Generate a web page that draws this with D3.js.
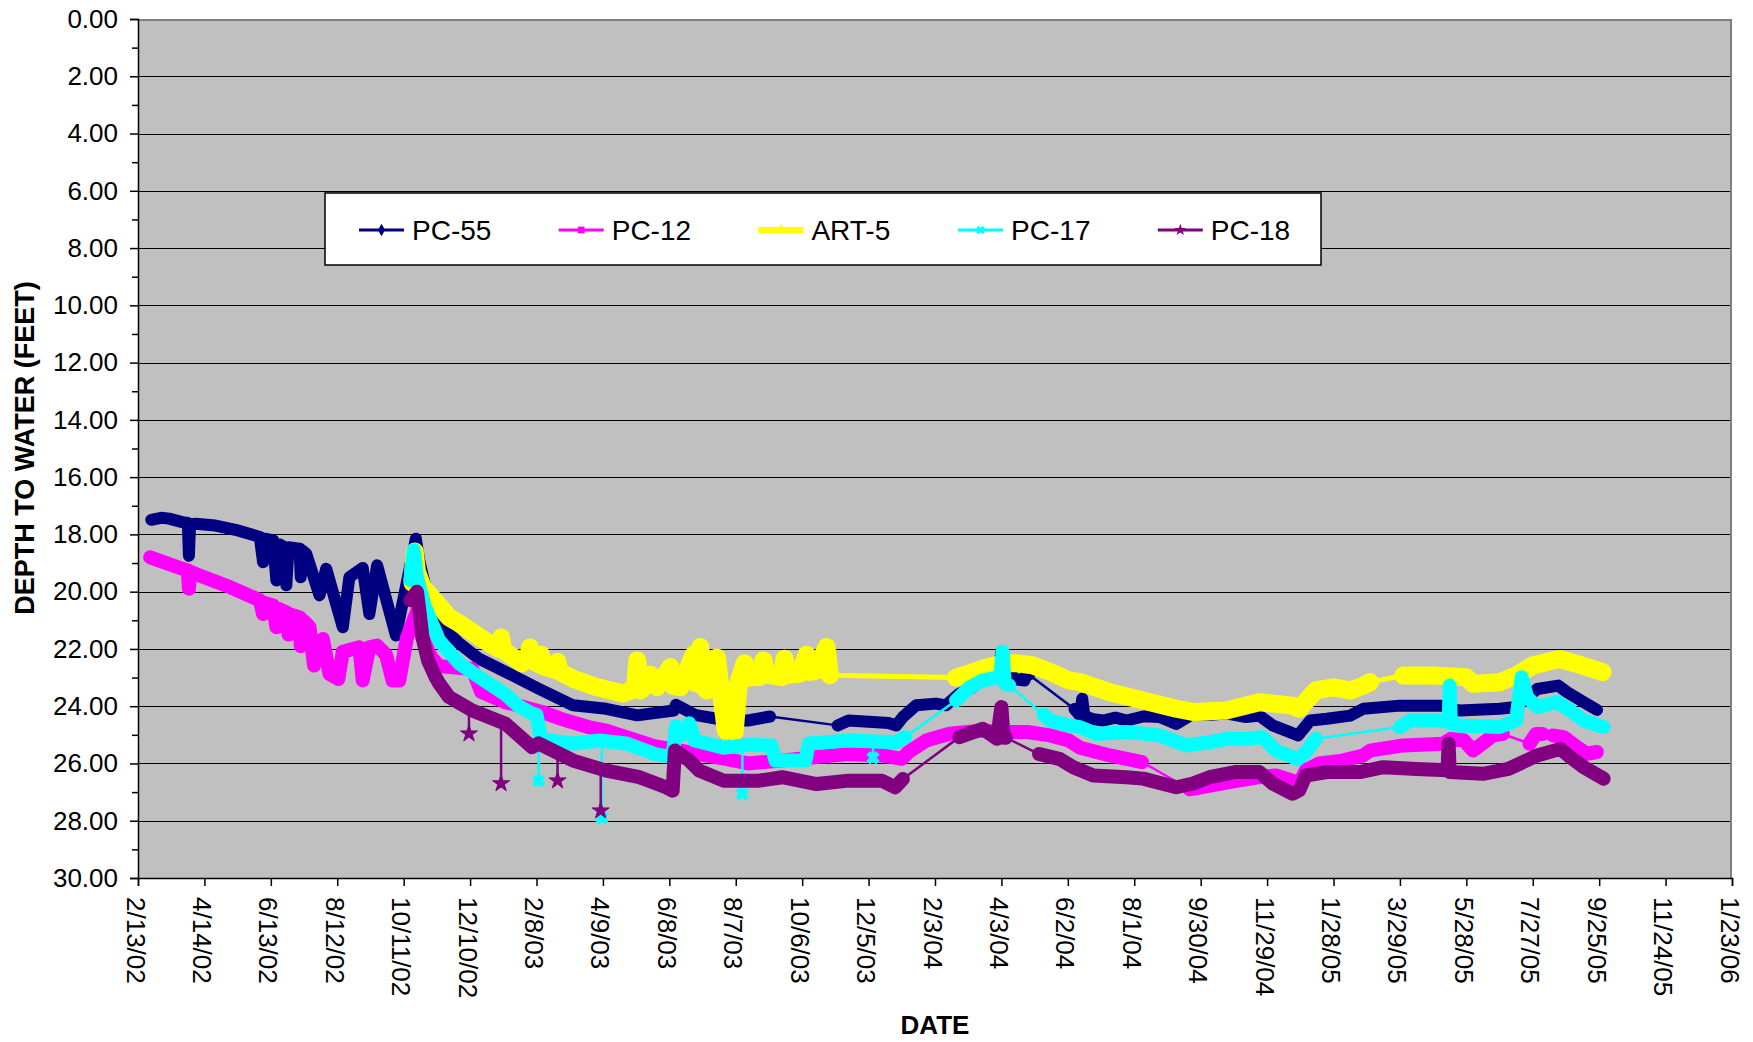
<!DOCTYPE html>
<html>
<head>
<meta charset="utf-8">
<script src="https://cdn.jsdelivr.net/npm/d3@7"></script>
<style>
    body { margin: 0; background: #fff; }
    svg { display: block; font-family: "Liberation Sans", Arial, sans-serif; }
</style>
</head>
<body>
<div id="svgContainer"></div>
<script>

// DATA

const seriesNames = ["PC-55", "PC-12", "ART-5", "PC-17", "PC-18"];

const xTickLabels = ["2/13/02", "4/14/02", "6/13/02", "8/12/02", "10/11/02", "12/10/02",
    "2/8/03", "4/9/03", "6/8/03", "8/7/03", "10/6/03", "12/5/03", "2/3/04", "4/3/04",
    "6/2/04", "8/1/04", "9/30/04", "11/29/04", "1/28/05", "3/29/05", "5/28/05", "7/27/05",
    "9/25/05", "11/24/05", "1/23/06"];

const yTickValues = [0, 2, 4, 6, 8, 10, 12, 14, 16, 18, 20, 22, 24, 26, 28, 30];

// each series is a list of logging runs: [date, depth to water (ft)]
const pc55Runs = [
    [["2/25/02", 17.49], ["3/6/02", 17.42], ["3/13/02", 17.45], ["3/25/02", 17.57], ["3/30/02", 17.6],
     ["3/31/02", 18.75], ["4/1/02", 17.65], ["4/6/02", 17.63], ["4/24/02", 17.69], ["5/12/02", 17.84],
     ["6/3/02", 18.09], ["6/6/02", 18.97], ["6/8/02", 18.15], ["6/15/02", 18.21], ["6/18/02", 19.61],
     ["6/21/02", 18.35], ["6/25/02", 18.44], ["6/27/02", 19.78], ["6/29/02", 18.45], ["7/9/02", 18.5],
     ["7/10/02", 19.5], ["7/11/02", 18.55], ["7/15/02", 18.68], ["7/27/02", 20.13], ["8/2/02", 19.2],
     ["8/17/02", 21.24], ["8/23/02", 19.49], ["9/4/02", 19.17], ["9/10/02", 20.78], ["9/17/02", 19.08],
     ["10/4/02", 21.53], ["10/22/02", 18.15], ["10/25/02", 18.9], ["11/3/02", 20.4], ["11/12/02", 20.95],
     ["11/21/02", 21.45], ["11/30/02", 21.8], ["12/18/02", 22.34], ["1/11/03", 22.8], ["2/10/03", 23.39],
     ["3/13/03", 23.97], ["4/12/03", 24.09], ["5/10/03", 24.32], ["6/12/03", 24.15], ["6/14/03", 23.95],
     ["7/1/03", 24.3], ["7/30/03", 24.5], ["8/18/03", 24.5], ["9/7/03", 24.36]],
    [["11/7/03", 24.67], ["11/17/03", 24.5], ["12/23/03", 24.59], ["12/30/03", 24.67], ["1/5/04", 24.38],
     ["1/17/04", 23.97], ["2/4/04", 23.91], ["2/13/04", 23.97], ["2/25/04", 23.56], ["3/5/04", 23.4],
     ["3/17/04", 23.1], ["3/30/04", 23.0], ["4/3/04", 22.1], ["4/5/04", 22.9], ["4/11/04", 22.45],
     ["4/13/04", 23.05], ["4/24/04", 23.1], ["4/26/04", 22.6], ["4/28/04", 22.9]],
    [["6/8/04", 24.1], ["6/13/04", 24.33], ["6/15/04", 23.74], ["6/17/04", 24.35], ["6/25/04", 24.45],
     ["7/4/04", 24.5], ["7/15/04", 24.4], ["7/25/04", 24.5], ["8/10/04", 24.35], ["8/24/04", 24.38],
     ["9/8/04", 24.62], ["9/23/04", 24.27], ["10/10/04", 24.3], ["10/23/04", 24.25], ["11/10/04", 24.38],
     ["11/22/04", 24.33], ["12/4/04", 24.67], ["12/27/04", 25.02], ["1/7/05", 24.5], ["1/22/05", 24.44],
     ["2/12/05", 24.33], ["2/24/05", 24.09], ["3/29/05", 23.98], ["5/4/05", 23.98], ["5/12/05", 24.0],
     ["5/13/05", 23.35], ["5/14/05", 24.1], ["5/22/05", 24.15], ["6/27/05", 24.09], ["7/12/05", 24.03],
     ["7/31/05", 23.4], ["8/19/05", 23.28], ["8/27/05", 23.51], ["9/11/05", 23.86], ["9/23/05", 24.13]]
];

const pc12Runs = [
    [["2/24/02", 18.8], ["3/25/02", 19.2], ["3/30/02", 19.25], ["3/31/02", 19.9], ["4/1/02", 19.3],
     ["4/6/02", 19.38], ["5/7/02", 19.84], ["6/3/02", 20.3], ["6/6/02", 20.78], ["6/8/02", 20.4],
     ["6/15/02", 20.48], ["6/18/02", 21.24], ["6/20/02", 20.6], ["6/27/02", 20.72], ["6/29/02", 21.5],
     ["7/1/02", 20.8], ["7/9/02", 20.9], ["7/10/02", 21.9], ["7/12/02", 21.0], ["7/18/02", 21.24],
     ["7/22/02", 22.58], ["7/30/02", 21.65], ["8/5/02", 22.87], ["8/13/02", 23.05], ["8/17/02", 22.1],
     ["9/1/02", 21.94], ["9/4/02", 23.1], ["9/10/02", 21.94], ["9/17/02", 21.88], ["9/25/02", 22.2],
     ["10/1/02", 23.1], ["10/7/02", 23.1], ["10/14/02", 21.6], ["10/24/02", 20.6], ["10/28/02", 21.6],
     ["11/5/02", 22.3], ["11/12/02", 22.6], ["12/12/02", 22.7], ["12/20/02", 23.5], ["1/10/03", 23.85],
     ["2/13/03", 24.2], ["3/3/03", 24.45], ["3/29/03", 24.75], ["4/12/03", 24.85], ["5/10/03", 25.2],
     ["5/26/03", 25.4], ["6/11/03", 25.5], ["7/1/03", 25.65], ["7/30/03", 25.85], ["8/18/03", 26.0],
     ["9/17/03", 25.9], ["10/17/03", 25.78], ["11/17/03", 25.67], ["12/17/03", 25.72], ["1/4/04", 25.84],
     ["1/10/04", 25.6], ["1/26/04", 25.2], ["2/16/04", 24.96], ["3/17/04", 24.85], ["4/6/04", 24.9],
     ["4/26/04", 24.9], ["5/17/04", 25.02], ["6/3/04", 25.2], ["6/13/04", 25.45], ["7/10/04", 25.72],
     ["8/8/04", 25.95]],
    [["9/20/04", 26.9], ["10/26/04", 26.65], ["11/22/04", 26.48], ["12/7/04", 26.42], ["12/22/04", 26.6],
     ["12/28/04", 26.7], ["1/3/05", 26.24], ["1/15/05", 26.0], ["2/5/05", 25.9], ["2/24/05", 25.72],
     ["3/2/05", 25.55], ["4/1/05", 25.37], ["5/7/05", 25.31], ["5/14/05", 25.14], ["5/26/05", 25.2],
     ["6/3/05", 25.55], ["6/13/05", 25.26], ["6/21/05", 25.02], ["6/30/05", 24.97]],
    [["7/24/05", 25.31], ["7/30/05", 24.97], ["8/5/05", 24.97]],
    [["8/14/05", 25.02], ["8/24/05", 25.08], ["9/5/05", 25.43], ["9/14/05", 25.66], ["9/23/05", 25.6]]
];

const art5Runs = [
    [["10/19/02", 19.7], ["10/21/02", 18.6], ["10/23/02", 19.3], ["10/28/02", 19.84], ["11/9/02", 20.35],
     ["11/21/02", 20.9], ["11/30/02", 21.1], ["12/27/02", 21.8], ["1/5/03", 22.0], ["1/7/03", 21.6],
     ["1/9/03", 22.05], ["1/26/03", 22.5], ["2/1/03", 22.3], ["2/2/03", 21.95], ["2/4/03", 22.4],
     ["2/11/03", 22.55], ["2/12/03", 22.2], ["2/14/03", 22.6], ["2/26/03", 22.75], ["2/27/03", 22.45],
     ["3/1/03", 22.8], ["3/13/03", 23.04], ["4/3/03", 23.33], ["4/27/03", 23.56], ["5/8/03", 23.4],
     ["5/10/03", 22.4], ["5/13/03", 23.45], ["5/20/03", 23.2], ["5/22/03", 22.9], ["5/28/03", 23.33],
     ["6/9/03", 22.63], ["6/12/03", 23.3], ["6/18/03", 23.33], ["6/30/03", 22.2], ["7/2/03", 23.2],
     ["7/6/03", 21.93], ["7/8/03", 23.3], ["7/12/03", 23.45], ["7/21/03", 22.3], ["7/24/03", 23.3],
     ["7/29/03", 24.85], ["8/1/03", 23.45], ["8/6/03", 24.9], ["8/10/03", 23.1], ["8/15/03", 22.5],
     ["8/18/03", 23.0], ["8/28/03", 22.98], ["9/1/03", 22.4], ["9/4/03", 22.9], ["9/18/03", 22.98],
     ["9/20/03", 22.34], ["9/23/03", 22.9], ["10/4/03", 22.86], ["10/10/03", 22.2], ["10/13/03", 22.8],
     ["10/19/03", 22.75], ["10/28/03", 21.93], ["10/31/03", 22.92]],
    [["2/22/04", 23.0], ["3/5/04", 22.86], ["3/17/04", 22.69], ["3/29/04", 22.57], ["4/4/04", 22.5],
     ["4/16/04", 22.5], ["5/1/04", 22.57], ["5/17/04", 22.8], ["6/3/04", 23.1], ["6/13/04", 23.16],
     ["7/10/04", 23.51], ["8/9/04", 23.8], ["9/8/04", 24.09], ["9/23/04", 24.2], ["10/23/04", 24.15],
     ["11/22/04", 23.86], ["12/22/04", 23.98], ["12/28/04", 24.09], ["1/12/05", 23.45], ["1/28/05", 23.34],
     ["2/12/05", 23.45], ["2/24/05", 23.28], ["3/2/05", 23.16]],
    [["4/1/05", 22.93], ["4/28/05", 22.93], ["5/28/05", 22.99], ["6/3/05", 23.22], ["6/27/05", 23.16],
     ["7/12/05", 22.93], ["7/27/05", 22.58], ["8/20/05", 22.35], ["9/10/05", 22.58], ["9/28/05", 22.81]]
];

const pc17Runs = [
    [["10/17/02", 19.6], ["10/20/02", 18.55], ["10/23/02", 19.5], ["10/30/02", 20.5], ["11/12/02", 21.7],
     ["11/30/02", 22.5], ["12/18/02", 22.98], ["1/10/03", 23.56], ["1/23/03", 24.0], ["2/4/03", 24.26],
     ["2/8/03", 24.3], ["2/12/03", 25.1], ["2/19/03", 25.2], ["3/13/03", 25.3], ["4/6/03", 25.2],
     ["4/30/03", 25.3], ["5/26/03", 25.67], ["6/11/03", 25.78], ["6/14/03", 24.7], ["6/20/03", 25.0],
     ["6/26/03", 24.6], ["7/1/03", 25.2], ["7/27/03", 25.45], ["8/18/03", 25.35], ["9/8/03", 25.37],
     ["9/12/03", 25.9], ["10/9/03", 25.9], ["10/12/03", 25.3], ["11/17/03", 25.2], ["12/30/03", 25.26],
     ["1/7/04", 25.08]],
    [["2/22/04", 23.8], ["3/5/04", 23.35], ["3/17/04", 23.1], ["4/2/04", 22.98], ["4/4/04", 22.1],
     ["4/6/04", 23.2], ["4/10/04", 23.27]],
    [["5/11/04", 24.3], ["5/17/04", 24.5], ["6/3/04", 24.67], ["6/13/04", 24.73], ["6/28/04", 24.97],
     ["7/25/04", 24.9], ["8/24/04", 25.02], ["9/17/04", 25.37], ["10/8/04", 25.26], ["10/23/04", 25.14],
     ["11/10/04", 25.14], ["11/25/04", 25.08], ["12/7/04", 25.55], ["12/27/04", 25.85], ["1/3/05", 25.6],
     ["1/12/05", 25.14]],
    [["3/29/05", 24.73], ["4/7/05", 24.5], ["5/4/05", 24.5], ["5/12/05", 24.55], ["5/13/05", 23.28],
     ["5/14/05", 24.6], ["5/22/05", 24.67], ["6/27/05", 24.73], ["7/12/05", 24.5], ["7/17/05", 22.99],
     ["7/22/05", 23.69], ["7/31/05", 24.03], ["8/18/05", 23.86], ["8/30/05", 24.15], ["9/11/05", 24.5],
     ["9/29/05", 24.73]]
];

const pc18Runs = [
    [["10/17/02", 20.3], ["10/23/02", 20.0], ["10/25/02", 20.6], ["10/28/02", 21.6], ["11/2/02", 22.4],
     ["11/9/02", 23.0], ["11/12/02", 23.2], ["11/21/02", 23.68], ["12/12/02", 24.15], ["1/11/03", 24.61],
     ["2/4/03", 25.43], ["2/10/03", 25.3], ["3/13/03", 25.9], ["4/12/03", 26.25], ["5/12/03", 26.48],
     ["6/5/03", 26.83], ["6/11/03", 26.95], ["6/13/03", 25.55], ["6/26/03", 25.9], ["7/5/03", 26.25],
     ["7/27/03", 26.6], ["8/28/03", 26.6], ["9/18/03", 26.48], ["10/19/03", 26.72], ["11/17/03", 26.6],
     ["12/17/03", 26.6], ["12/29/03", 26.83], ["1/5/04", 26.54]],
    [["2/25/04", 25.08], ["3/17/04", 24.79], ["3/30/04", 25.14], ["4/3/04", 24.03], ["4/5/04", 25.1],
     ["4/7/04", 25.1]],
    [["5/7/04", 25.67], ["5/26/04", 25.85], ["6/7/04", 26.13], ["6/25/04", 26.42], ["7/25/04", 26.48],
     ["8/9/04", 26.53], ["9/8/04", 26.83], ["9/23/04", 26.7], ["10/8/04", 26.48], ["10/31/04", 26.3],
     ["11/22/04", 26.3], ["12/4/04", 26.7], ["12/22/04", 27.06], ["12/28/04", 26.94], ["1/3/05", 26.42],
     ["1/22/05", 26.3], ["2/21/05", 26.3], ["3/14/05", 26.13], ["4/13/05", 26.19], ["5/11/05", 26.24],
     ["5/12/05", 25.3], ["5/13/05", 26.3], ["6/12/05", 26.36], ["7/5/05", 26.19], ["7/31/05", 25.72],
     ["8/21/05", 25.49], ["8/30/05", 25.78], ["9/11/05", 26.13], ["9/29/05", 26.53]]
];

// single readings off the trend: [date, trend depth, reading]
const pc17Spikes = [["2/10/03", 24.3, 26.6], ["4/8/03", 25.2, 27.9], ["8/13/03", 25.45, 27.07],
    ["12/9/03", 25.2, 25.8]];
const pc18Spikes = [["12/9/02", 24.1, 24.96], ["1/7/03", 24.55, 26.7], ["2/27/03", 25.7, 26.6],
    ["4/7/03", 26.2, 27.65]];

// STYLE

const seriesStyle = {
    "PC-55": { color: "#000080", band: 12, thin: 2.5, legend: 3, symbol: "diamond" },
    "PC-12": { color: "#ff00ff", band: 14, thin: 2.5, legend: 3, symbol: "square" },
    "ART-5": { color: "#ffff00", band: 18, thin: 5, legend: 6, symbol: "triangle" },
    "PC-17": { color: "#00ffff", band: 14, thin: 2.5, legend: 3, symbol: "times" },
    "PC-18": { color: "#800080", band: 14, thin: 2.5, legend: 3, symbol: "star" }
};

class DepthChart {

    constructor(series) {
        this._margin = { left: 138, top: 19, right: 21, bottom: 164 };
        this._width = 1753;
        this._height = 1042;
        this._parse = d3.utcParse("%m/%d/%y");
        this._SVG("svgContainer")
            ._scales()
            ._plotArea()
            ._axes()
            ._series(series)
            ._legend(series);
    }

    // PRIVATE

    _SVG(container) {
        this._svg = d3.select("#" + container).append("svg")
            .attr("width", this._width)
            .attr("height", this._height)
            .attr("viewBox", "0 0 " + this._width + " " + this._height);
        return this;
    }

    _scales() {
        const m = this._margin;
        this._x = d3.scaleUtc()
            .domain([this._parse(xTickLabels[0]), this._parse(xTickLabels[xTickLabels.length - 1])])
            .range([m.left, this._width - m.right]);
        this._y = d3.scaleLinear()
            .domain([0, 30])
            .range([m.top, this._height - m.bottom]);
        return this;
    }

    _plotArea() {
        const x0 = this._x.range()[0], x1 = this._x.range()[1];
        const y0 = this._y.range()[0], y1 = this._y.range()[1];

        this._svg.append("rect")
            .attr("x", x0).attr("y", y0)
            .attr("width", x1 - x0).attr("height", y1 - y0)
            .attr("fill", "#c0c0c0");

        this._svg.append("g")
            .selectAll("line")
            .data(yTickValues.slice(1, -1))
            .enter().append("line")
            .attr("x1", x0).attr("x2", x1)
            .attr("y1", d => Math.round(this._y(d)) + 0.5)
            .attr("y2", d => Math.round(this._y(d)) + 0.5)
            .attr("stroke", "#000")
            .attr("stroke-width", 1);

        // plot area border (top and right)
        this._svg.append("path")
            .attr("d", `M${x0},${y0 + 1}H${x1 - 1}V${y1}`)
            .attr("fill", "none")
            .attr("stroke", "#808080")
            .attr("stroke-width", 2);
        return this;
    }

    _axes() {
        const svg = this._svg;
        const x0 = this._x.range()[0];
        const y1 = this._y.range()[1];
        const fmt = d3.format(".2f");

        const minor = yTickValues.slice(0, -1).map(v => v + 1);
        svg.append("g")
            .attr("transform", `translate(${x0},0)`)
            .call(d3.axisLeft(this._y).tickValues(minor).tickSize(6).tickFormat(""))
            .call(g => g.select(".domain").remove())
            .selectAll("line").attr("stroke", "#000").attr("stroke-width", 1.5);

        const yAxis = svg.append("g")
            .attr("transform", `translate(${x0},0)`)
            .call(d3.axisLeft(this._y).tickValues(yTickValues).tickSize(8).tickPadding(12).tickFormat(fmt));
        yAxis.select(".domain").attr("stroke", "#000").attr("stroke-width", 1.5);
        yAxis.selectAll("line").attr("stroke", "#000").attr("stroke-width", 1.5);
        yAxis.selectAll("text")
            .attr("font-size", 26)
            .attr("font-family", "Liberation Sans, Arial, sans-serif")
            .attr("fill", "#000");

        const tickDates = xTickLabels.map(s => this._parse(s));
        const xAxis = svg.append("g")
            .attr("transform", `translate(0,${y1})`)
            .call(d3.axisBottom(this._x).tickValues(tickDates).tickSize(8).tickFormat((d, i) => xTickLabels[i]));
        xAxis.select(".domain").attr("stroke", "#000").attr("stroke-width", 1.5);
        xAxis.selectAll("line").attr("stroke", "#000").attr("stroke-width", 1.5);
        xAxis.selectAll("text")
            .attr("font-size", 26)
            .attr("font-family", "Liberation Sans, Arial, sans-serif")
            .attr("fill", "#000")
            .attr("text-anchor", "start")
            .attr("x", 0).attr("y", 0).attr("dy", 12)
            .attr("transform", "translate(0,19) rotate(90)");

        svg.append("text")
            .attr("transform", "translate(34,448) rotate(-90)")
            .attr("text-anchor", "middle")
            .attr("font-size", 27)
            .attr("font-weight", "bold")
            .text("DEPTH TO WATER (FEET)");

        svg.append("text")
            .attr("x", 935).attr("y", 1034)
            .attr("text-anchor", "middle")
            .attr("font-size", 26)
            .attr("font-weight", "bold")
            .text("DATE");
        return this;
    }

    _symbol(name, size) {
        const types = {
            diamond: d3.symbolDiamond, square: d3.symbolSquare, triangle: d3.symbolTriangle,
            times: d3.symbolCross, star: d3.symbolStar
        };
        return d3.symbol().type(types[name]).size(size)();
    }

    _series(series) {
        const x = this._x, y = this._y, parse = this._parse;
        const line = d3.line()
            .x(d => x(parse(d[0])))
            .y(d => y(d[1]));

        series.forEach(s => {
            const st = seriesStyle[s.name];
            const g = this._svg.append("g");

            // thin joins across logging gaps
            const gaps = s.runs.slice(1).map((r, i) => [s.runs[i][s.runs[i].length - 1], r[0]]);
            g.selectAll("path.gap")
                .data(gaps)
                .enter().append("path")
                .attr("d", line)
                .attr("fill", "none")
                .attr("stroke", st.color)
                .attr("stroke-width", st.thin);

            g.selectAll("path.run")
                .data(s.runs)
                .enter().append("path")
                .attr("d", line)
                .attr("fill", "none")
                .attr("stroke", st.color)
                .attr("stroke-width", st.band)
                .attr("stroke-linejoin", "round")
                .attr("stroke-linecap", "round");

            g.selectAll("line.spike")
                .data(s.spikes)
                .enter().append("line")
                .attr("x1", d => x(parse(d[0]))).attr("x2", d => x(parse(d[0])))
                .attr("y1", d => y(d[1])).attr("y2", d => y(d[2]))
                .attr("stroke", st.color)
                .attr("stroke-width", 2.5);

            g.selectAll("path.mark")
                .data(s.spikes)
                .enter().append("path")
                .attr("d", this._symbol(st.symbol, 90))
                .attr("transform", d => `translate(${x(parse(d[0]))},${y(d[2])}) rotate(${st.symbol === "times" ? 45 : 0})`)
                .attr("fill", st.color)
                .attr("stroke", st.color)
                .attr("stroke-width", 1);
        });
        return this;
    }

    _legend(series) {
        const g = this._svg.append("g").attr("transform", "translate(325,193)");
        g.append("rect")
            .attr("width", 996).attr("height", 72)
            .attr("fill", "#fff")
            .attr("stroke", "#000")
            .attr("stroke-width", 1.5);

        const item = g.selectAll("g.item")
            .data(series)
            .enter().append("g")
            .attr("transform", (d, i) => `translate(${34 + i * 199.7},37)`);

        item.append("line")
            .attr("x1", 0).attr("x2", 45)
            .attr("stroke", d => seriesStyle[d.name].color)
            .attr("stroke-width", d => seriesStyle[d.name].legend);

        item.append("path")
            .attr("d", d => this._symbol(seriesStyle[d.name].symbol, 45))
            .attr("transform", d => `translate(22.5,0) rotate(${seriesStyle[d.name].symbol === "times" ? 45 : 0})`)
            .attr("fill", d => seriesStyle[d.name].color);

        item.append("text")
            .attr("x", 53)
            .attr("dy", "0.36em")
            .attr("font-size", 28)
            .attr("fill", "#000")
            .text(d => d.name);
        return this;
    }
}

const allSeries = [
    { name: seriesNames[0], runs: pc55Runs, spikes: [] },
    { name: seriesNames[1], runs: pc12Runs, spikes: [] },
    { name: seriesNames[2], runs: art5Runs, spikes: [] },
    { name: seriesNames[3], runs: pc17Runs, spikes: pc17Spikes },
    { name: seriesNames[4], runs: pc18Runs, spikes: pc18Spikes }
];

new DepthChart(allSeries);

</script>
</body>
</html>
